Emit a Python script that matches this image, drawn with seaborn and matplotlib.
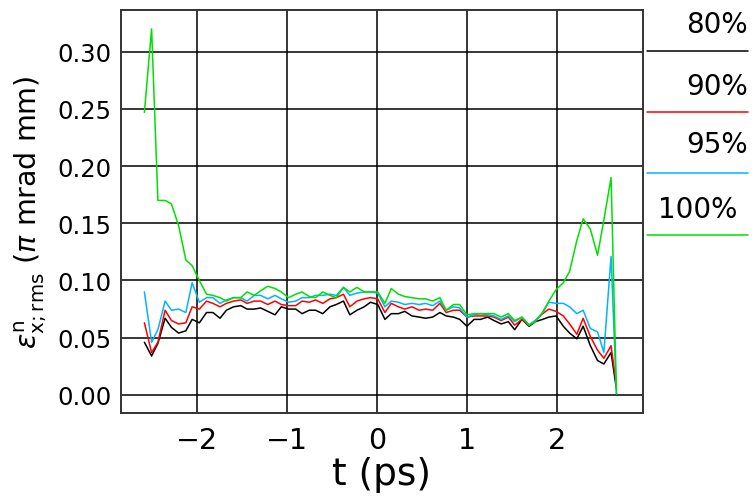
import numpy as np
import pandas as pd
import matplotlib
matplotlib.use("Agg")
import matplotlib.pyplot as plt
import seaborn as sns
from matplotlib.lines import Line2D

# --- DATA ---
t_ps = [-2.58, -2.50, -2.43, -2.35, -2.28, -2.20, -2.12, -2.05, -1.97, -1.89,
        -1.82, -1.74, -1.67, -1.59, -1.51, -1.44, -1.36, -1.29, -1.21, -1.13,
        -1.06, -0.98, -0.90, -0.83, -0.75, -0.68, -0.60, -0.52, -0.45, -0.37,
        -0.30, -0.22, -0.14, -0.07, 0.01, 0.09, 0.16, 0.24, 0.31, 0.39,
        0.47, 0.54, 0.62, 0.70, 0.77, 0.85, 0.92, 1.00, 1.08, 1.15,
        1.23, 1.30, 1.38, 1.46, 1.53, 1.61, 1.69, 1.76, 1.84, 1.91,
        1.99, 2.07, 2.14, 2.22, 2.29, 2.37, 2.45, 2.52, 2.60, 2.66]

emit_80 = [0.046, 0.034, 0.045, 0.067, 0.059, 0.054, 0.056, 0.066, 0.063, 0.072,
           0.072, 0.067, 0.074, 0.077, 0.078, 0.075, 0.075, 0.076, 0.073, 0.070,
           0.077, 0.075, 0.075, 0.071, 0.074, 0.074, 0.071, 0.077, 0.079, 0.082,
           0.070, 0.074, 0.077, 0.081, 0.079, 0.066, 0.071, 0.071, 0.073, 0.069,
           0.068, 0.067, 0.068, 0.072, 0.069, 0.068, 0.066, 0.060, 0.066, 0.066,
           0.068, 0.065, 0.062, 0.064, 0.057, 0.066, 0.060, 0.064, 0.066, 0.068,
           0.069, 0.060, 0.054, 0.049, 0.060, 0.043, 0.030, 0.027, 0.037, 0.005]

emit_90 = [0.063, 0.037, 0.046, 0.074, 0.065, 0.062, 0.063, 0.077, 0.075, 0.082,
           0.080, 0.077, 0.080, 0.082, 0.083, 0.080, 0.082, 0.082, 0.079, 0.082,
           0.079, 0.078, 0.078, 0.082, 0.081, 0.083, 0.080, 0.084, 0.085, 0.088,
           0.077, 0.082, 0.084, 0.085, 0.084, 0.072, 0.080, 0.077, 0.075, 0.077,
           0.074, 0.075, 0.074, 0.080, 0.072, 0.074, 0.074, 0.068, 0.069, 0.069,
           0.069, 0.068, 0.065, 0.068, 0.061, 0.066, 0.061, 0.065, 0.071, 0.075,
           0.073, 0.069, 0.062, 0.053, 0.067, 0.051, 0.039, 0.032, 0.043, 0.008]

emit_95 = [0.090, 0.046, 0.057, 0.082, 0.074, 0.075, 0.072, 0.098, 0.081, 0.085,
           0.085, 0.080, 0.083, 0.085, 0.085, 0.082, 0.087, 0.087, 0.084, 0.087,
           0.084, 0.081, 0.082, 0.085, 0.085, 0.087, 0.087, 0.088, 0.087, 0.094,
           0.087, 0.089, 0.090, 0.090, 0.089, 0.077, 0.082, 0.081, 0.079, 0.080,
           0.079, 0.080, 0.078, 0.082, 0.074, 0.077, 0.076, 0.068, 0.070, 0.071,
           0.070, 0.069, 0.066, 0.069, 0.064, 0.068, 0.061, 0.065, 0.072, 0.081,
           0.080, 0.080, 0.077, 0.071, 0.074, 0.058, 0.055, 0.037, 0.121, 0.001]

emit_100 = [0.247, 0.320, 0.170, 0.170, 0.167, 0.148, 0.118, 0.113, 0.100, 0.088,
            0.087, 0.085, 0.082, 0.085, 0.085, 0.090, 0.087, 0.091, 0.095, 0.093,
            0.090, 0.085, 0.088, 0.090, 0.086, 0.085, 0.090, 0.087, 0.085, 0.094,
            0.090, 0.094, 0.090, 0.090, 0.090, 0.080, 0.093, 0.088, 0.086, 0.085,
            0.084, 0.084, 0.082, 0.085, 0.074, 0.079, 0.079, 0.070, 0.071, 0.071,
            0.071, 0.071, 0.068, 0.071, 0.065, 0.068, 0.061, 0.064, 0.072, 0.082,
            0.092, 0.098, 0.108, 0.135, 0.154, 0.145, 0.122, 0.153, 0.190, 0.001]

levels = ["80%", "90%", "95%", "100%"]
level_colors = ["#000000", "#ff0000", "#00b4ff", "#00e000"]

x_ticks = [-2, -1, 0, 1, 2]
y_ticks = [0.00, 0.05, 0.10, 0.15, 0.20, 0.25, 0.30]

# long table for seaborn
series = [emit_80, emit_90, emit_95, emit_100]
df = pd.DataFrame({
    "t": t_ps * len(levels),
    "emit": [v for s in series for v in s],
    "level": [lv for lv in levels for _ in t_ps],
})

# --- STYLE ---
sns.set_style("white")
plt.rcParams["font.family"] = ["DejaVu Sans"]
plt.rcParams["mathtext.fontset"] = "dejavusans"
for key in ["text.color", "axes.labelcolor", "xtick.color", "ytick.color"]:
    plt.rcParams[key] = "black"

fig = plt.figure(figsize=(7.56, 5.02), dpi=100)
ax = fig.add_axes([0.160, 0.175, 0.690, 0.803])

sns.lineplot(data=df, x="t", y="emit", hue="level", hue_order=levels,
             palette=level_colors, sort=False, estimator=None,
             linewidth=1.1, legend=False, ax=ax)

ax.set_xlim(-2.84, 2.95)
ax.set_ylim(-0.016, 0.3365)
ax.set_xticks(x_ticks)
ax.set_yticks(y_ticks)
ax.set_yticklabels([f"{v:.2f}" for v in y_ticks])
ax.grid(True, color="black", linewidth=1.1)
ax.set_axisbelow(True)
ax.tick_params(axis="x", length=0, pad=9, labelsize=20.5)
ax.tick_params(axis="y", length=0, pad=7, labelsize=17.5)
for sp in ax.spines.values():
    sp.set_color("#333333")
    sp.set_linewidth(1.4)

ax.set_xlabel("t (ps)", fontsize=27, labelpad=2)
ax.set_ylabel(r"$\varepsilon^{\mathrm{n}}_{\mathrm{x;rms}}$ ($\pi$ mrad mm)",
              fontsize=20.5, labelpad=6)

# legend on the right, drawn as text above short line segments
legend_text_y = [0.950, 0.827, 0.711, 0.582]
legend_line_y = [0.896, 0.775, 0.653, 0.530]
legend_text_x = [0.989, 0.989, 0.989, 0.976]
for lv, col, ty, ly, tx in zip(levels, level_colors, legend_text_y, legend_line_y, legend_text_x):
    fig.text(tx, ty, lv, ha="right", va="center", fontsize=20)
    fig.add_artist(Line2D([0.856, 0.989], [ly, ly], color=col, linewidth=1.1,
                          transform=fig.transFigure))

fig.savefig("out.png", dpi=100)
plt.close(fig)
